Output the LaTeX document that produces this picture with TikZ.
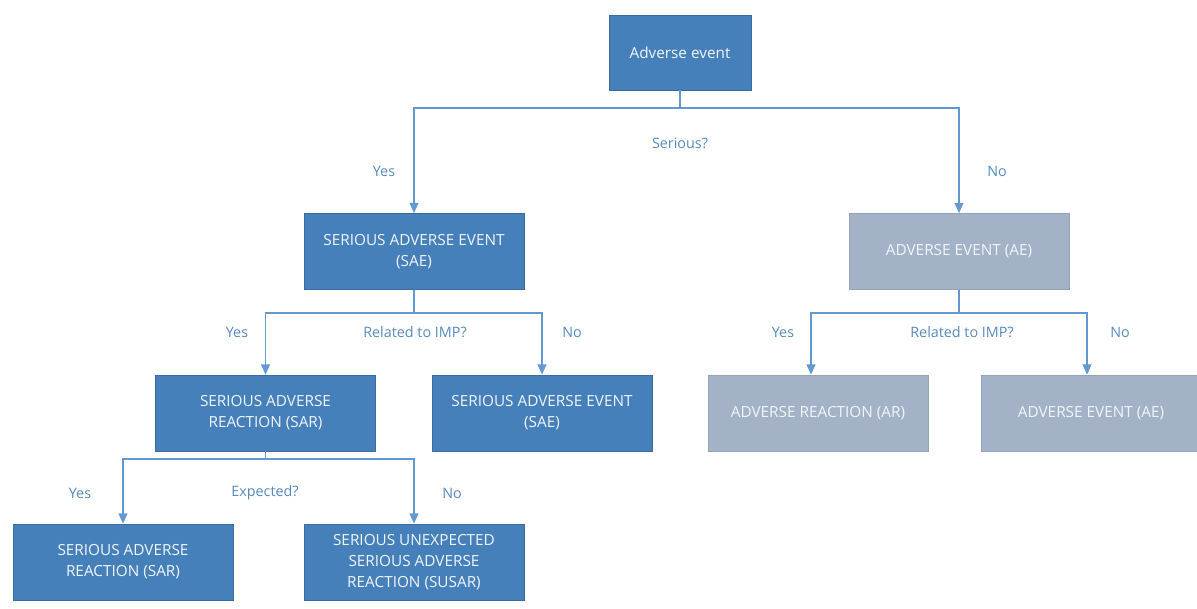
\documentclass[tikz,border=0pt]{standalone}
\usepackage{fontspec}
\setmainfont{Open Sans}
\usepackage{tikz}
\usetikzlibrary{arrows.meta, positioning, calc}
\definecolor{sblue}{RGB}{70,128,186}
\definecolor{sedge}{RGB}{58,108,160}
\definecolor{pale}{RGB}{164,178,200}
\definecolor{paleedge}{RGB}{148,163,186}
\definecolor{wire}{RGB}{98,153,208}
\definecolor{lbl}{RGB}{86,138,190}

\begin{document}
\begin{tikzpicture}[x=0.025cm, y=-0.025cm,
  box/.style={draw=sedge, fill=sblue, align=center, text=white!92!sblue,
              font=\fontsize{10.9}{15}\selectfont, minimum width=5.5cm,
              minimum height=1.9cm, inner sep=2pt},
  palebox/.style={box, draw=paleedge, fill=pale},
  lab/.style={text=lbl, font=\fontsize{10.2}{12}\selectfont},
  arr/.style={-{Triangle[length=2.6mm, width=2.2mm]}, wire, line width=1.2pt},
  ln/.style={wire, line width=1.2pt}]
  \useasboundingbox (0,0) rectangle (1197,608);
  \node[box, minimum width=3.55cm, minimum height=1.875cm] (top) at (680,52.5) {Adverse event};
  \node[box] (sae) at (414,251.5) {SERIOUS ADVERSE EVENT\\(SAE)};
  \node[palebox] (ae) at (959,251.5) {ADVERSE EVENT (AE)};
  \node[box] (sar) at (265.5,413) {SERIOUS ADVERSE\\REACTION (SAR)};
  \node[box] (sae2) at (542,413) {SERIOUS ADVERSE EVENT\\(SAE)};
  \node[palebox] (ar) at (818,413) {ADVERSE REACTION (AR)};
  \node[palebox] (ae2) at (1091,413) {ADVERSE EVENT (AE)};
  \node[box] (sar2) at (123,562) {SERIOUS ADVERSE\\REACTION (SAR)};
  \node[box] (susar) at (414,562) {SERIOUS UNEXPECTED\\SERIOUS ADVERSE\\REACTION (SUSAR)};
  % junctions
  \coordinate (j1) at (680,108);
  \coordinate (j2) at (414,313);
  \coordinate (j3) at (959,313);
  \coordinate (j4) at (265.5,459);
  \draw[ln] (top.south) -- (j1);
  \draw[arr] (j1) -| (sae.north);
  \draw[arr] (j1) -| (ae.north);
  \draw[ln] (sae.south) -- (j2);
  \draw[arr] (j2) -| (sar.north);
  \draw[arr] (j2) -| (sae2.north);
  \draw[ln] (ae.south) -- (j3);
  \draw[arr] (j3) -| ($(ar.north)+(-7,0)$);
  \draw[arr] (j3) -| ($(ae2.north)+(-4,0)$);
  \draw[ln] (sar.south) -- (j4);
  \draw[arr] (j4) -| (sar2.north);
  \draw[arr] (j4) -| (susar.north);
  % labels
  \node[lab] (q1) at (680,143) {Serious?};
  \node[lab] (y1) at (384,171) {Yes};
  \node[lab] (n1) at (997,171) {No};
  \node[lab] (q2) at (415,332) {Related to IMP?};
  \node[lab] (y2) at (237,332) {Yes};
  \node[lab] (n2) at (572,332) {No};
  \node[lab] (q3) at (962,332) {Related to IMP?};
  \node[lab] (y3) at (783,332) {Yes};
  \node[lab] (n3) at (1120,332) {No};
  \node[lab] (q4) at (265,493) {Expected?};
  \node[lab] (y4) at (80,493) {Yes};
  \node[lab] (n4) at (452,493) {No};
\end{tikzpicture}
\end{document}
